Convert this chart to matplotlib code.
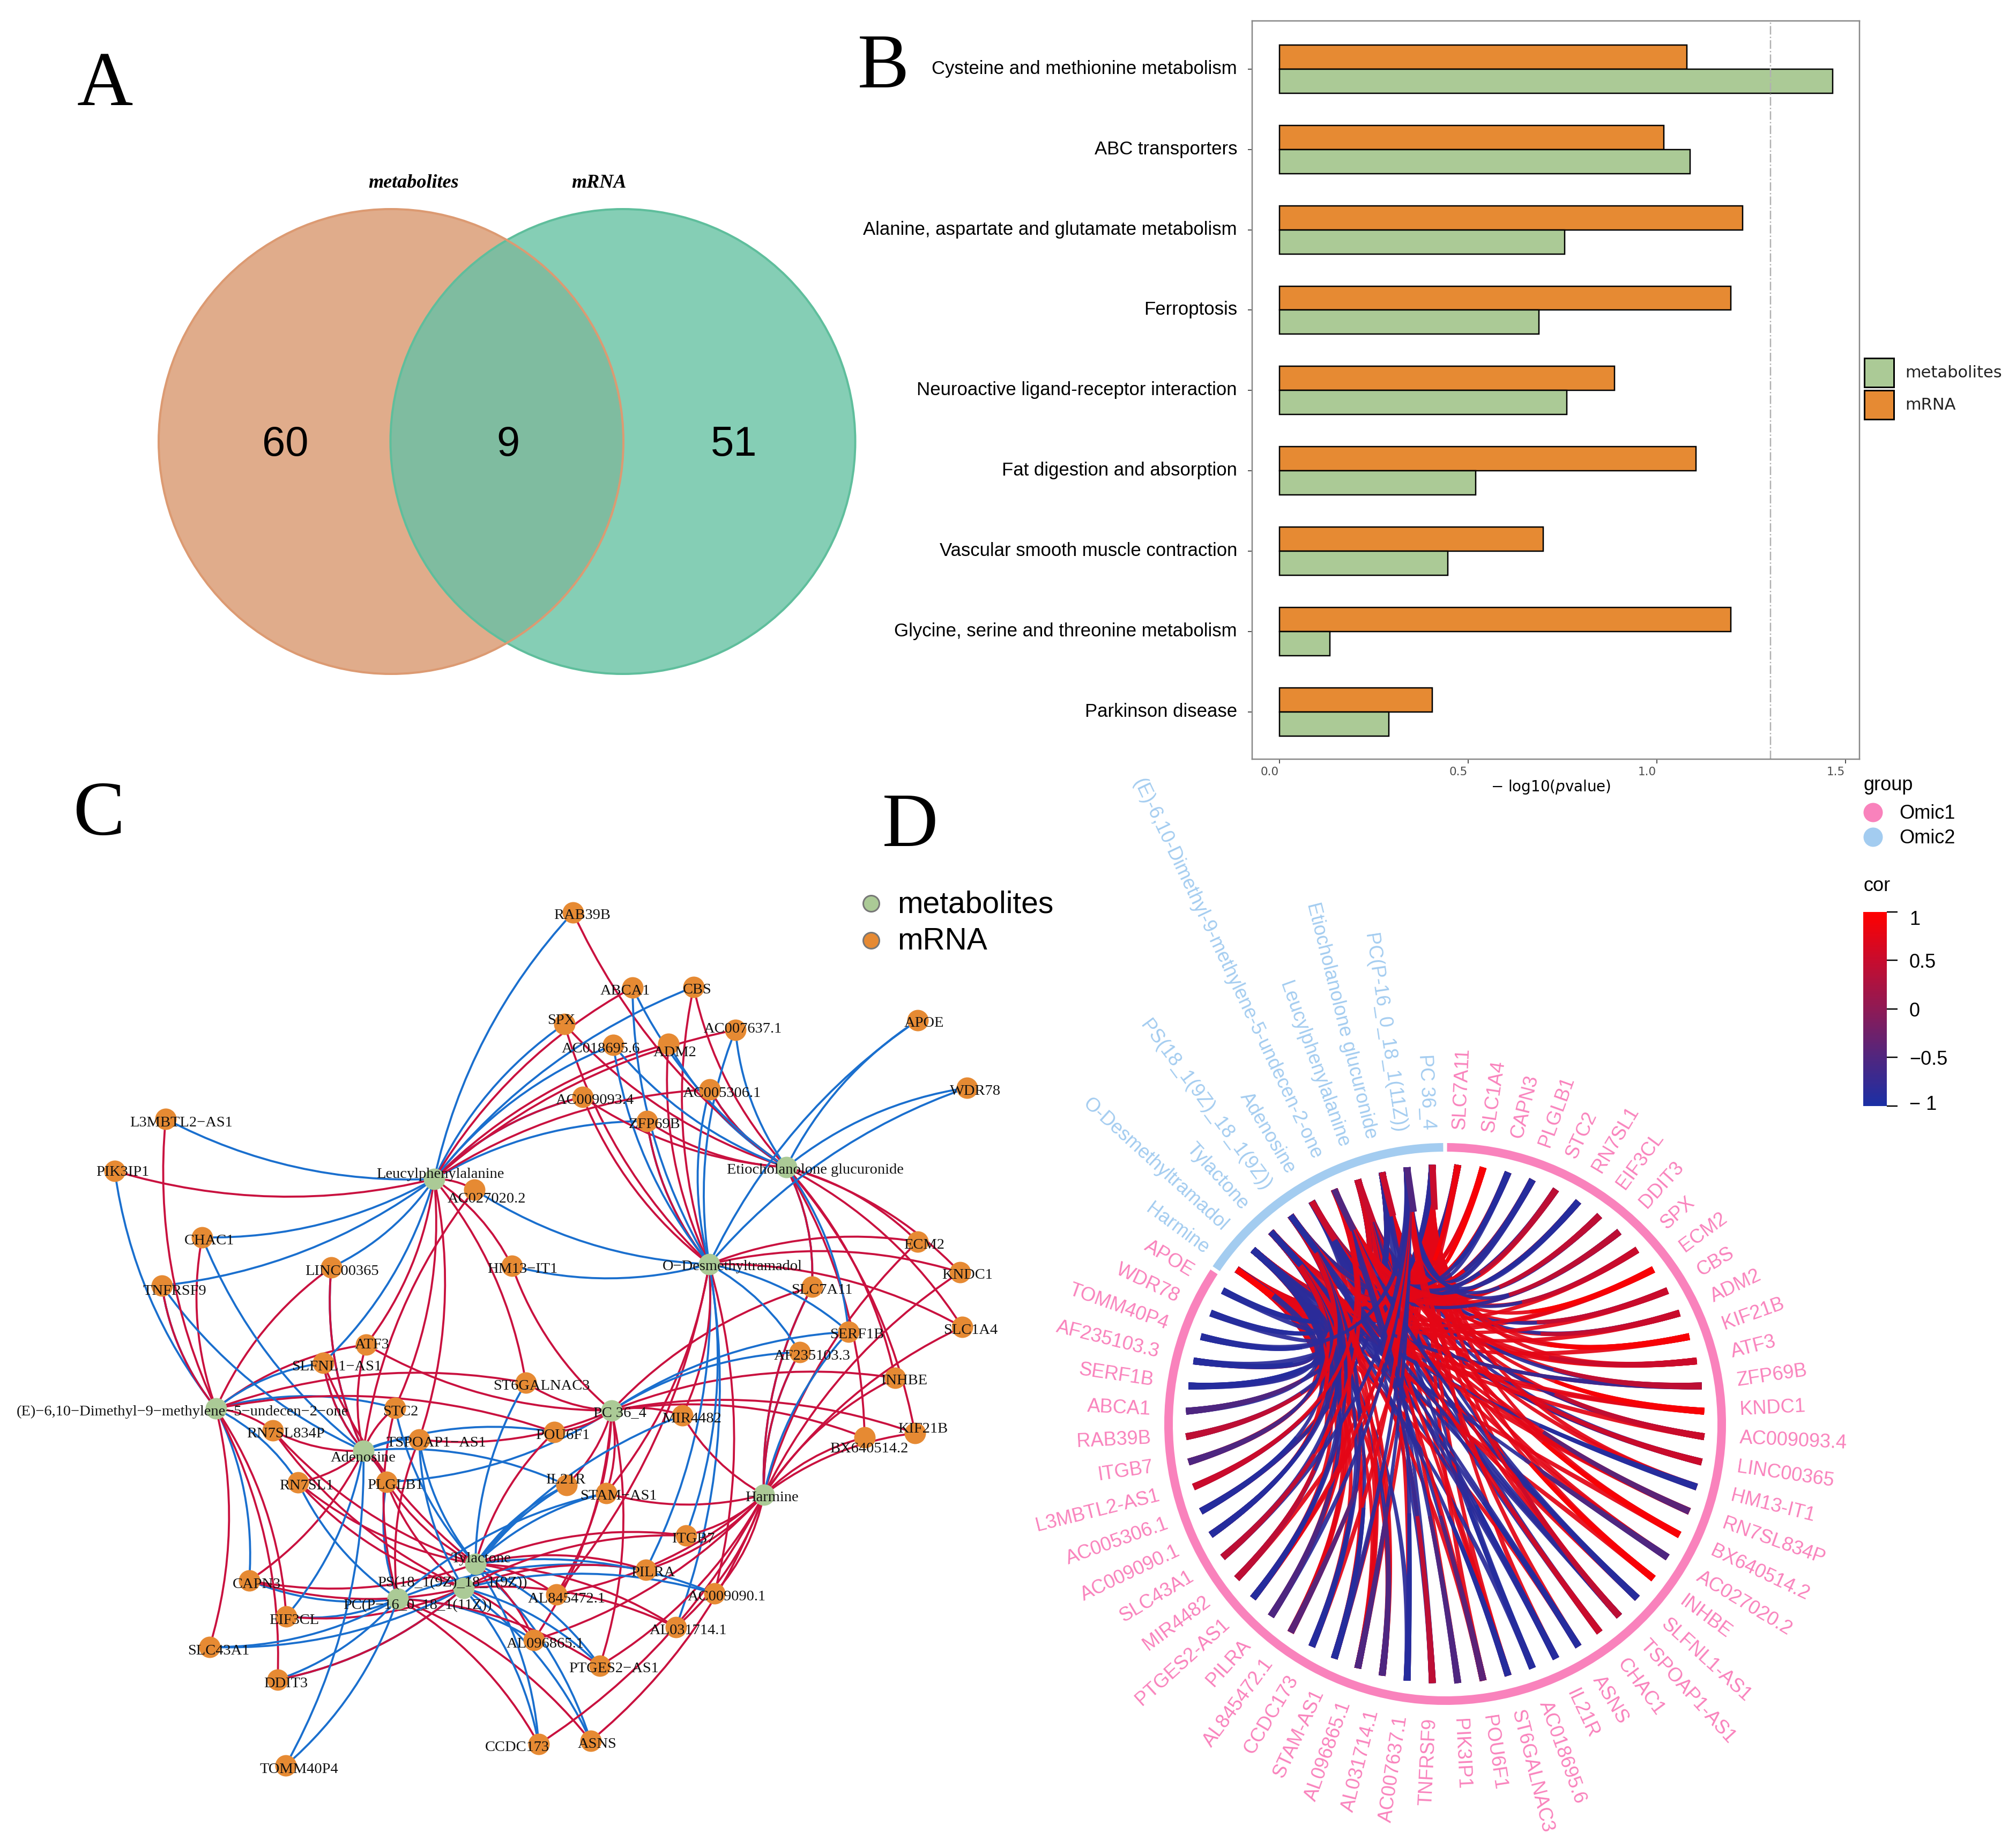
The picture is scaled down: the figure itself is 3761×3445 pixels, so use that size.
import numpy as np
import matplotlib
matplotlib.use("Agg")
import matplotlib.pyplot as plt
from matplotlib.cm import ScalarMappable
from matplotlib.colors import LinearSegmentedColormap, Normalize
from matplotlib.patches import Circle, PathPatch, Rectangle, Wedge
from matplotlib.path import Path
from matplotlib.transforms import ScaledTranslation

W, H = 3761, 3445
PX = 0.72  # points per pixel at dpi 100

ORANGE = "#E68A33"
GREEN = "#ABCA96"
PINK = "#F982BC"
LIGHTBLUE = "#A3CCF0"
NET_RED = "#C9113F"
NET_BLUE = "#1A6FCE"

# panel A
venn_counts = ["60", "9", "51"]
venn_names = ["metabolites", "mRNA"]

# panel B
pathways = ["Cysteine and methionine metabolism", "ABC transporters",
            "Alanine, aspartate and glutamate metabolism", "Ferroptosis",
            "Neuroactive ligand-receptor interaction", "Fat digestion and absorption",
            "Vascular smooth muscle contraction", "Glycine, serine and threonine metabolism",
            "Parkinson disease"]
mrna_p = [1.08, 1.018, 1.227, 1.196, 0.888, 1.104, 0.699, 1.196, 0.405]
metab_p = [1.466, 1.088, 0.755, 0.687, 0.761, 0.52, 0.446, 0.133, 0.29]
p_cutoff = 1.301

# panels C and D: metabolites, in the order of the ring
met_keys = "PCGLEASTOH"
met_names = ["PC 36_4", "PC(P-16_0_18_1(11Z))", "Etiocholanolone glucuronide",
             "Leucylphenylalanine", "(E)-6,10-Dimethyl-9-methylene-5-undecen-2-one",
             "Adenosine", "PS(18_1(9Z)_18_1(9Z))", "Tylactone",
             "O-Desmethyltramadol", "Harmine"]
met_x = [1141, 742, 1467, 810, 403, 678, 865, 887, 1323, 1425]
met_y = [2631, 2982, 2177, 2199, 2627, 2706, 2962, 2917, 2358, 2788]
met_lx = [1156, 779, 1521, 821, 340, 678, 844, 897, 1366, 1440]
met_ly = [2636, 2995, 2182, 2190, 2633, 2719, 2953, 2907, 2362, 2793]
met_cor = [0.5, -0.5, 0.5, 0.5, -0.5, 0.5, -0.9, -0.9, -0.9, 0.95]

# panels C and D: genes, in the order of the ring
gene_names = ["SLC7A11", "SLC1A4", "CAPN3", "PLGLB1", "STC2", "RN7SL1", "EIF3CL", "DDIT3", "SPX",
              "ECM2", "CBS", "ADM2", "KIF21B", "ATF3", "ZFP69B", "KNDC1", "AC009093.4", "LINC00365",
              "HM13-IT1", "RN7SL834P", "BX640514.2", "AC027020.2", "INHBE", "SLFNL1-AS1",
              "TSPOAP1-AS1", "CHAC1", "ASNS", "IL21R", "AC018695.6", "ST6GALNAC3", "POU6F1",
              "PIK3IP1", "TNFRSF9", "AC007637.1", "AL031714.1", "AL096865.1", "STAM-AS1", "CCDC173",
              "AL845472.1", "PILRA", "PTGES2-AS1", "MIR4482", "SLC43A1", "AC009090.1", "AC005306.1",
              "L3MBTL2-AS1", "ITGB7", "RAB39B", "ABCA1", "SERF1B", "AF235103.3", "TOMM40P4", "WDR78",
              "APOE"]
gene_x = [1515, 1795, 465, 721, 737, 556, 534, 518, 1053, 1712, 1294, 1247, 1707, 683, 1207, 1791,
          1087, 618, 955, 509, 1613, 885, 1670, 603, 782, 377, 1102, 1057, 1144, 981, 1034, 214, 302,
          1372, 1261, 996, 1131, 1005, 1038, 1205, 1119, 1273, 391, 1333, 1324, 309, 1280, 1069, 1180,
          1583, 1492, 533, 1804, 1712]
gene_y = [2400, 2475, 2948, 2764, 2626, 2765, 3015, 3133, 1910, 2316, 1841, 1947, 2673, 2508, 2091,
          2373, 2046, 2364, 2361, 2668, 2681, 2219, 2570, 2542, 2685, 2308, 3247, 2770, 1949, 2579,
          2671, 2184, 2398, 1921, 3035, 3059, 2785, 3253, 2974, 2928, 3107, 2640, 3072, 2972, 2032,
          2087, 2864, 1702, 1842, 2484, 2522, 3293, 2029, 1903]
gene_lx = [1533, 1811, 479, 737, 747, 572, 549, 533, 1047, 1724, 1301, 1259, 1722, 694, 1221, 1805,
           1110, 638, 975, 533, 1621, 908, 1687, 628, 814, 391, 1114, 1055, 1121, 1010, 1050, 229, 326,
           1386, 1284, 1017, 1154, 965, 1057, 1218, 1145, 1291, 408, 1356, 1347, 338, 1293, 1086, 1166,
           1599, 1515, 558, 1820, 1724]
gene_ly = [2406, 2481, 2955, 2770, 2633, 2771, 3022, 3140, 1903, 2322, 1846, 1963, 2665, 2508, 2097,
           2378, 2052, 2371, 2367, 2674, 2702, 2236, 2575, 2549, 2691, 2314, 3253, 2760, 1956, 2585,
           2677, 2186, 2408, 1919, 3041, 3066, 2790, 3259, 2982, 2933, 3112, 2646, 3079, 2978, 2039,
           2094, 2870, 1707, 1848, 2489, 2529, 3300, 2035, 1908]
gene_cor = [0.95, 0.95, -0.9, -0.9, 0.5, -0.9, 0.5, 0.5, 0.5, 0.95, 0.5, 0.5, 0.95, 0.5, 0.5, 0.95,
            0.5, 0.5, -0.9, -0.5, 0.95, -0.5, 0.95, -0.9, 0.5, 0.5, -0.9, -0.9, -0.9, -0.9, -0.5,
            -0.5, 0.5, -0.9, -0.5, -0.5, -0.9, -0.9, -0.5, -0.5, -0.9, 0.5, 0.5, -0.9, -0.9, 0.5,
            -0.5, 0.5, -0.5, -0.9, -0.9, -0.9, -0.9, -0.9]
# metabolites linked to each gene, by sign of the correlation
red_links = ["GPH", "GOH", "ATS", "ATS", "LAC", "ATS", "ES", "ES", "GO", "GOH", "GO", "LO", "GPH",
             "LEAP", "GO", "GOH", "GOL", "EA", "LP", "EATS", "GPH", "LA", "GPH", "AT", "PLC", "E", "HC",
             "P", "", "LPE", "PET", "L", "E", "L", "HTS", "PTSH", "HPO", "HC", "POTH", "HTS", "HPC",
             "OPH", "E", "HO", "LG", "E", "HTS", "G", "L", "", "H", "", "", ""]
blue_links = ["GH", "", "EC", "ACP", "ET", "EC", "AC", "CS", "L", "", "L", "G", "", "", "LO", "", "L",
              "LA", "O", "", "", "O", "", "EAL", "ATS", "LA", "TS", "ATS", "LGO", "T", "A", "E", "LEA",
              "GO", "O", "C", "TC", "TS", "", "OC", "TS", "T", "CS", "TS", "OG", "L", "O", "L", "GO",
              "GOPH", "OPH", "AC", "GO", "GO"]

# panel D legends
group_names = ["Omic1", "Omic2"]
cor_ticks = [-1, -0.5, 0, 0.5, 1]
cor_tick_labels = ["\u2212 1", "\u22120.5", "0", "0.5", "1"]

fig = plt.figure(figsize=(W / 100, H / 100), dpi=100)
canvas = fig.add_axes([0, 0, 1, 1])
canvas.set_xlim(0, W)
canvas.set_ylim(H, 0)
canvas.axis("off")

SANS = "Liberation Sans"
SERIF = "Liberation Serif"

# panel letters
for letter, lx, ly in [("A", 196, 196), ("B", 1648, 163), ("C", 184, 1557), ("D", 1698, 1578)]:
    canvas.text(lx, ly, letter, family=SERIF, fontsize=104, ha="center", va="baseline")

# ---- A: venn
R_VENN = 433.5
left_c = Circle((729.5, 823.5), R_VENN, fc="#E0AC8B", ec="none")
canvas.add_patch(left_c)
canvas.add_patch(Circle((1162, 823.5), R_VENN, fc="#85CEB5", ec="none"))
lens = Circle((1162, 823.5), R_VENN, fc="#7FBCA0", ec="none")
canvas.add_patch(lens)
lens.set_clip_path(left_c)
canvas.add_patch(Circle((1162, 823.5), R_VENN, fc="none", ec="#5FBE9C", lw=4 * PX))
canvas.add_patch(Circle((729.5, 823.5), R_VENN, fc="none", ec="#DC9A72", lw=4 * PX))
for txt, vx in zip(venn_counts, [532, 948, 1369]):
    canvas.text(vx, 829, txt, family=SANS, fontsize=56, ha="center", va="center")
for txt, vx in zip(venn_names, [772, 1118]):
    canvas.text(vx, 341, txt, family=SERIF, style="italic", weight="bold", fontsize=26,
                ha="center", va="center")

# ---- B: bars
ax = fig.add_axes([2336 / W, 1 - 1416 / H, (3469 - 2336) / W, (1416 - 39) / H], zorder=2)
ax.patch.set_alpha(0)
y = np.arange(len(pathways))
ax.barh(y - 0.15, mrna_p, 0.3, color=ORANGE, edgecolor="black", linewidth=2.5 * PX)
ax.barh(y + 0.15, metab_p, 0.3, color=GREEN, edgecolor="black", linewidth=2.5 * PX)
ax.axvline(p_cutoff, color="#b0b0b0", lw=2.5 * PX, ls="-.")
ax.set_xlim(-0.0725, 1.537)
ax.set_ylim(8.587, -0.599)
ax.set_yticks(y)
ax.set_yticklabels(pathways, family=SANS, fontsize=25)
ax.set_xticks([0, 0.5, 1.0, 1.5])
ax.set_xticklabels(["0.0", "0.5", "1.0", "1.5"], fontsize=15.5, color="#4d4d4d")
ax.tick_params(axis="y", length=8 * PX, width=2 * PX, pad=20 * PX, color="#555555")
ax.tick_params(axis="x", length=8 * PX, width=2 * PX, pad=6 * PX, color="#555555")
shift = ScaledTranslation(-18 / 100, 0, fig.dpi_scale_trans)
for lab in ax.get_xticklabels():
    lab.set_transform(lab.get_transform() + shift)
up = ScaledTranslation(0, 4 / 100, fig.dpi_scale_trans)
for lab in ax.get_yticklabels():
    lab.set_transform(lab.get_transform() + up)
for sp in ax.spines.values():
    sp.set_color("#888888")
    sp.set_linewidth(2.5 * PX)
canvas.text(2893, 1468, "\u2212 log10($\\mathit{p}$value)", fontsize=20, ha="center", va="center",
            zorder=5)
for ky, fc, txt in [(668, GREEN, "metabolites"), (728, ORANGE, "mRNA")]:
    canvas.add_patch(Rectangle((3478, ky), 55, 54, fc=fc, ec="black", lw=3 * PX))
    canvas.text(3554, ky + 27, txt, fontsize=22, ha="left", va="center", color="#222222")

# ---- C: network
mid_x = dict(zip(met_keys, met_x))
mid_y = dict(zip(met_keys, met_y))
RAD = 0.135
for g, (gx, gy) in enumerate(zip(gene_x, gene_y)):
    for links, col in [(blue_links[g], NET_BLUE), (red_links[g], NET_RED)]:
        for key in links:
            mx, my = mid_x[key], mid_y[key]
            dx, dy = gx - mx, gy - my
            ctrl = ((mx + gx) / 2 + RAD * dy, (my + gy) / 2 - RAD * dx)
            path = Path([(mx, my), ctrl, (gx, gy)], [Path.MOVETO, Path.CURVE3, Path.CURVE3])
            canvas.add_patch(PathPatch(path, fc="none", ec=col, lw=3.8 * PX, zorder=2))
node_s = (40 * PX) ** 2
canvas.scatter(gene_x, gene_y, s=node_s, c=ORANGE, linewidths=0, zorder=3)
canvas.scatter(met_x, met_y, s=node_s, c=GREEN, linewidths=0, zorder=3)
for name, lx, ly in list(zip(gene_names, gene_lx, gene_ly)) + list(zip(met_names, met_lx, met_ly)):
    # the network labels use a long minus instead of the hyphen
    canvas.text(lx, ly, name.replace("-", "\u2212"), family=SERIF, fontsize=20.5, ha="center",
                va="center", color="#111111", zorder=4)
for ly, col, txt in [(1685, GREEN, "metabolites"), (1754, ORANGE, "mRNA")]:
    canvas.scatter([1625], [ly], s=(30 * PX) ** 2, c=col, edgecolors="#777777", linewidths=3 * PX)
    canvas.text(1674, ly + 2, txt, family=SANS, fontsize=41, ha="left", va="center")

# ---- D: chord ring
CX, CY = 2696, 2656
R_RING, R_END = 516, 484
STEP = 360 / (len(gene_names) + len(met_names))
cor_cmap = LinearSegmentedColormap.from_list(
    "cor", ["#1B2FA5", "#50267F", "#8E1A55", "#C70C2E", "#FF0000"])
cor_norm = Normalize(-1, 1)


def ring_xy(theta, r):
    a = np.radians(theta)
    return CX + r * np.sin(a), CY - r * np.cos(a)


def gene_theta(i):
    return STEP / 2 + STEP * i


def met_theta(j):
    return -STEP / 2 - STEP * j


def ribbon(p0, p1, value, tmax=1.0):
    # quadratic curve near the ring centre, wide at both ends and thin in the middle
    t = np.linspace(0, tmax, 60)
    c = np.array(ring_xy(-40, 80))
    p0 = np.array(p0)
    p1 = np.array(p1)
    pts = (1 - t)[:, None] ** 2 * p0 + (2 * t * (1 - t))[:, None] * c + (t ** 2)[:, None] * p1
    tan = np.gradient(pts, axis=0)
    nor = np.c_[-tan[:, 1], tan[:, 0]] / np.linalg.norm(tan, axis=1, keepdims=True)
    s = 2 * t - 1
    w = (6 + 7 * np.where(s < 0, s ** 2, np.abs(s) ** 1.5)) / 2
    poly = np.r_[pts + nor * w[:, None], (pts - nor * w[:, None])[::-1]]
    canvas.fill(poly[:, 0], poly[:, 1], color=cor_cmap(cor_norm(value)), lw=0, zorder=2, alpha=0.93)


def ring_segment(t0, t1, col):
    # the canvas has y pointing down, so Wedge angles run clockwise from the east
    canvas.add_patch(Wedge((CX, CY), R_RING + 8, t0 - 90, t1 - 90, width=16, fc=col, ec="none"))


ring_segment(0.4, 360 - 56.25 - 0.4, PINK)
ring_segment(360 - 56.25 + 0.4, 360 - 0.4, LIGHTBLUE)

met_index = {k: j for j, k in enumerate(met_keys)}
# chords to the metabolites with a red stripe go first, the ones to blue stripes on top
for positive_met in (True, False):
    for i in range(len(gene_names)):
        p0 = ring_xy(gene_theta(i), R_END)
        for links, val in [(red_links[i], 0.75), (blue_links[i], -0.85)]:
            for key in links:
                j = met_index[key]
                if (met_cor[j] > 0) == positive_met:
                    ribbon(p0, ring_xy(met_theta(j), R_END), val)
for i in range(len(gene_names)):
    # stripe at the gene end, along its first chord of the same sign
    links = (red_links[i] or blue_links[i]) if gene_cor[i] > 0 else (blue_links[i] or red_links[i])
    ribbon(ring_xy(gene_theta(i), R_END), ring_xy(met_theta(met_index[links[0]]), R_END),
           gene_cor[i], tmax=0.3)
for j in range(len(met_names)):
    # short stripe at the metabolite end
    p = ring_xy(met_theta(j), R_END)
    q = ring_xy(met_theta(j), 400)
    canvas.plot([p[0], q[0]], [p[1], q[1]], color=cor_cmap(cor_norm(met_cor[j])),
                lw=12 * PX, solid_capstyle="butt", zorder=2)


def ring_label(theta, name, col, nudge=0.0):
    theta = theta % 360
    x, y2 = ring_xy(theta + nudge, 550)
    if theta < 180:
        rot, ha = 90 - theta, "left"
    else:
        rot, ha = 270 - theta, "right"
    canvas.text(x, y2, name, family=SANS, fontsize=26, color=col, rotation=rot, ha=ha, va="center",
                rotation_mode="anchor")


for i, name in enumerate(gene_names):
    ring_label(gene_theta(i), name, PINK)
for j, name in enumerate(met_names):
    ring_label(met_theta(j), name, LIGHTBLUE, nudge=-0.5)

# legends of D
canvas.text(3476, 1464, "group", family=SANS, fontsize=26, ha="left", va="center")
for ly, col, txt in [(1515, PINK, group_names[0]), (1561, LIGHTBLUE, group_names[1])]:
    canvas.scatter([3494], [ly], s=(36 * PX) ** 2, c=col, linewidths=0)
    canvas.text(3543, ly + 2, txt, family=SANS, fontsize=26, ha="left", va="center")
canvas.text(3476, 1652, "cor", family=SANS, fontsize=26, ha="left", va="center")
cax = fig.add_axes([3476 / W, 1 - 2063 / H, 44 / W, 362 / H], zorder=2)
cb = fig.colorbar(ScalarMappable(cor_norm, cor_cmap), cax=cax)
cb.outline.set_visible(False)
cb.set_ticks(cor_ticks)
cb.set_ticklabels(cor_tick_labels, family=SANS, fontsize=26)
cax.tick_params(length=20 * PX, width=2.5 * PX, pad=22 * PX)
labs = cax.get_yticklabels()
labs[0].set_transform(labs[0].get_transform() + ScaledTranslation(0, 6 / 100, fig.dpi_scale_trans))
labs[-1].set_transform(labs[-1].get_transform() + ScaledTranslation(0, -10 / 100, fig.dpi_scale_trans))

fig.savefig("out.png", dpi=100, facecolor="white")
